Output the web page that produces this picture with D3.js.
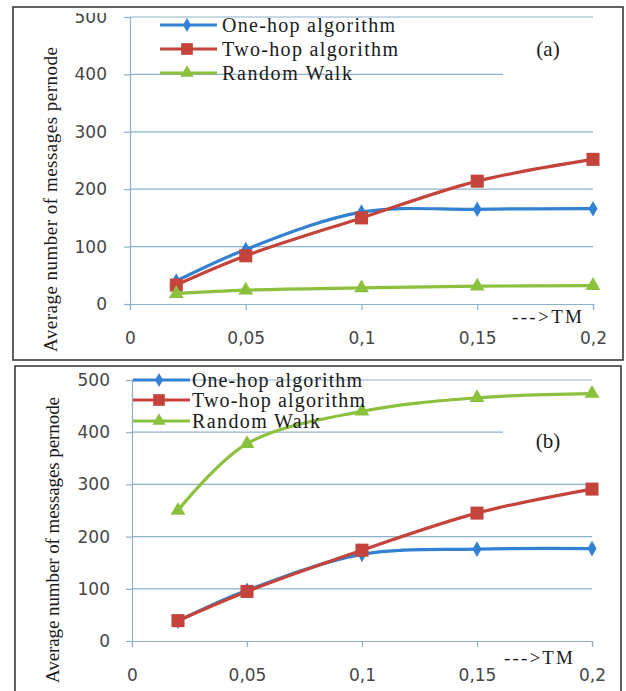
<!DOCTYPE html>
<html>
<head>
<meta charset="utf-8">
<script src="https://cdn.jsdelivr.net/npm/d3@7"></script>
<style>
  html, body { margin: 0; padding: 0; background: #ffffff; }
  svg { display: block; }
</style>
</head>
<body>
<svg id="chart" width="626" height="691"></svg>
<script>
// Traffic-model values (TM) on the horizontal axis
const tmValues = [0.02, 0.05, 0.1, 0.15, 0.2];

// Panel (a): average number of messages per node
const oneHopA = [40, 95, 160, 165, 166];
const twoHopA = [33, 84, 150, 214, 252];
const randomWalkA = [18, 24, 28, 31, 32];

// Panel (b): average number of messages per node
const oneHopB = [38, 97, 166, 176, 177];
const twoHopB = [39, 95, 174, 245, 291];
const randomWalkB = [250, 378, 440, 466, 474];

const seriesNames = ["One-hop algorithm", "Two-hop algorithm", "Random Walk"];
const yTickValues = [0, 100, 200, 300, 400, 500];
const xTickValues = [0, 0.05, 0.1, 0.15, 0.2];
const xTickLabels = ["0", "0,05", "0,1", "0,15", "0,2"];
const yTitle = "Average number of messages  pernode";
const xUnitLabel = "--->TM";

const SERIF = '"Liberation Serif", "Times New Roman", serif';
const SANS = '"DejaVu Sans", Verdana, sans-serif';

const colors = ["#3381d3", "#c4433a", "#8cc13e"];
const markers = [d3.symbolDiamond, d3.symbolSquare, d3.symbolTriangle];
const markerSizes = [70, 170, 95];
const gridColor = "#8db1c8";

const svg = d3.select("#chart");

function drawPanel(cfg, seriesData, id) {
  const g = svg.append("g");

  // clip the panel's content to the framed area
  g.append("clipPath").attr("id", "clip-" + id)
    .append("rect")
    .attr("x", cfg.clip[0]).attr("y", cfg.clip[1])
    .attr("width", cfg.clip[2]).attr("height", cfg.clip[3]);

  const c = g.append("g").attr("clip-path", `url(#clip-${id})`);

  const x = d3.scaleLinear().domain([0, 0.2]).range(cfg.xRange);
  const y = d3.scaleLinear().domain([0, 500]).range(cfg.yRange);

  // horizontal gridlines
  c.append("g").selectAll("line")
    .data(yTickValues.filter(v => v > 0))
    .join("line")
    .attr("x1", x(0)).attr("x2", x(0.2))
    .attr("y1", d => y(d)).attr("y2", d => y(d))
    .attr("stroke", gridColor).attr("stroke-width", 1.2);

  // y axis
  const yAxis = d3.axisLeft(y).tickValues(yTickValues).tickSize(6).tickPadding(cfg.yPad);
  const ya = c.append("g").attr("transform", `translate(${x(0)},0)`).call(yAxis);
  ya.select(".domain").attr("stroke", gridColor).attr("stroke-width", 1.2);
  ya.selectAll(".tick line").attr("stroke", gridColor).attr("stroke-width", 1.2);
  ya.selectAll(".tick text")
    .style("font-family", SANS).style("font-size", "17px")
    .attr("fill", "#474747");

  // x axis
  const xAxis = d3.axisBottom(x).tickValues(xTickValues)
    .tickFormat((d, i) => xTickLabels[i]).tickSize(6).tickPadding(cfg.xPad);
  const xa = c.append("g").attr("transform", `translate(0,${y(0)})`).call(xAxis);
  xa.select(".domain").attr("stroke", gridColor).attr("stroke-width", 1.2);
  xa.selectAll(".tick line").attr("stroke", gridColor).attr("stroke-width", 1.2);
  xa.selectAll(".tick text")
    .style("font-family", SANS).style("font-size", "17px")
    .attr("fill", "#474747");

  // white box holding the panel tag
  c.append("rect")
    .attr("x", cfg.tagBox[0]).attr("y", cfg.tagBox[1])
    .attr("width", cfg.tagBox[2]).attr("height", cfg.tagBox[3])
    .attr("fill", "#ffffff");
  c.append("text")
    .attr("x", cfg.tag[1]).attr("y", cfg.tag[2])
    .attr("text-anchor", "middle").attr("dominant-baseline", "central")
    .style("font-family", SERIF).style("font-size", "21px")
    .attr("fill", "#1a1a1a")
    .text(cfg.tag[0]);

  // series: smoothed lines then markers
  const line = d3.line()
    .x((d, i) => x(tmValues[i]))
    .y(d => y(d))
    .curve(d3.curveCatmullRom.alpha(0.5));

  seriesData.forEach((vals, s) => {
    c.append("path")
      .datum(vals)
      .attr("d", line)
      .attr("fill", "none")
      .attr("stroke", colors[s])
      .attr("stroke-width", 3.2)
      .attr("stroke-linejoin", "round");
    c.append("g").selectAll("path")
      .data(vals)
      .join("path")
      .attr("transform", (d, i) => `translate(${x(tmValues[i])},${y(d)})`)
      .attr("d", d3.symbol().type(markers[s]).size(markerSizes[s]))
      .attr("fill", colors[s]);
  });

  // legend
  const lg = c.append("g");
  seriesNames.forEach((name, s) => {
    const ry = cfg.legend.rows[s];
    lg.append("line")
      .attr("x1", cfg.legend.x0).attr("x2", cfg.legend.x1)
      .attr("y1", ry).attr("y2", ry)
      .attr("stroke", colors[s]).attr("stroke-width", 3.2);
    lg.append("path")
      .attr("transform", `translate(${cfg.legend.mx},${ry})`)
      .attr("d", d3.symbol().type(markers[s]).size(markerSizes[s] * 0.8))
      .attr("fill", colors[s]);
    lg.append("text")
      .attr("x", cfg.legend.tx).attr("y", ry)
      .attr("dominant-baseline", "central")
      .style("font-family", SERIF).style("font-size", "20px")
      .attr("fill", "#1a1a1a")
      .attr("textLength", cfg.legend.widths[s])
      .attr("lengthAdjust", "spacing")
      .text(name);
  });

  // axis unit label
  c.append("text")
    .attr("x", cfg.tm[0]).attr("y", cfg.tm[1])
    .attr("dominant-baseline", "central")
    .style("font-family", SERIF).style("font-size", "19px")
    .attr("fill", "#1a1a1a")
    .attr("textLength", cfg.tm[2]).attr("lengthAdjust", "spacing")
    .text(xUnitLabel);

  // y axis title
  const tcy = (cfg.yTitle[1] + cfg.yTitle[2]) / 2;
  c.append("text")
    .attr("transform", `translate(${cfg.yTitle[0]},${tcy}) rotate(-90)`)
    .attr("text-anchor", "middle").attr("dominant-baseline", "central")
    .style("font-family", SERIF).style("font-size", "19px")
    .attr("fill", "#1a1a1a")
    .attr("textLength", cfg.yTitle[2] - cfg.yTitle[1]).attr("lengthAdjust", "spacing")
    .text(yTitle);

  // frame
  g.append("rect")
    .attr("x", cfg.frame[0]).attr("y", cfg.frame[1])
    .attr("width", cfg.frame[2]).attr("height", cfg.frame[3])
    .attr("fill", "none").attr("stroke", "#3a3a3a").attr("stroke-width", 1.6);
}

drawPanel({
  frame: [13, 7, 610, 353],
  clip: [14, 13, 608, 346],
  xRange: [130, 593],
  yRange: [304, 17],
  yPad: 17, xPad: 22,
  legend: { x0: 160, x1: 217, mx: 187, tx: 222, rows: [25, 49, 73], widths: [173, 176, 130] },
  tag: ["(a)", 548, 49],
  tagBox: [503, 23, 91, 53],
  tm: [512, 316, 70],
  yTitle: [50, 47, 352]
}, [oneHopA, twoHopA, randomWalkA], "a");

drawPanel({
  frame: [15, 366, 606, 340],
  clip: [16, 367, 604, 330],
  xRange: [132, 592],
  yRange: [641, 380],
  yPad: 16, xPad: 22,
  legend: { x0: 133, x1: 190, mx: 159, tx: 192, rows: [380, 400, 421], widths: [170, 173, 128] },
  tag: ["(b)", 548, 441],
  tagBox: [503, 418, 90, 52],
  tm: [504, 657, 69],
  yTitle: [52, 397, 683]
}, [oneHopB, twoHopB, randomWalkB], "b");
</script>
</body>
</html>
